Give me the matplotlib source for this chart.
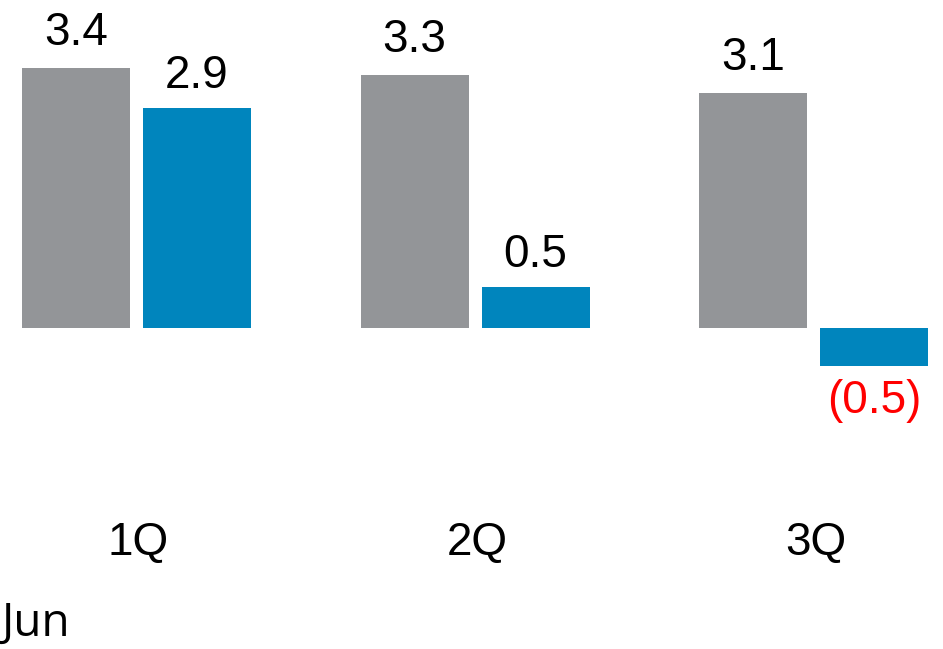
import matplotlib
matplotlib.use("Agg")
import matplotlib.pyplot as plt

categories = ["1Q", "2Q", "3Q"]
series_prior = [3.4, 3.31, 3.07]
series_current = [2.88, 0.53, -0.5]
label_prior = ["3.4", "3.3", "3.1"]
label_current = ["2.9", "0.5", "(0.5)"]
footer = "Jun"

GRAY = "#939598"
BLUE = "#0085BD"
RED = "#FF0000"

W, H = 943, 649
fig = plt.figure(figsize=(W / 100, H / 100), dpi=100)
ax = fig.add_axes([0, 0, 1, 1])
ppu_y = 76.5
base = 328
ax.set_ylim(-(H - base) / ppu_y, base / ppu_y)
ppu_x = 338.5
c0 = 136.5
ax.set_xlim(-c0 / ppu_x, (W - c0) / ppu_x)
ax.axis("off")

bw = 108 / ppu_x
off = 60.5 / ppu_x
x = list(range(len(categories)))
xp = [i - off for i in x]
xc = [i + off for i in x]
ax.bar(xp, series_prior, width=bw, color=GRAY, linewidth=0)
ax.bar(xc, series_current, width=bw, color=BLUE, linewidth=0)

font = "Liberation Sans"
fs = 33
for xi, v, t in zip(xp, series_prior, label_prior):
    ax.text(xi, v + 23 / ppu_y, t, ha="center", va="baseline", fontsize=fs,
            family=font, color="black")
for xi, v, t in zip(xc, series_current, label_current):
    if v >= 0:
        ax.text(xi, v + 20 / ppu_y, t, ha="center", va="baseline", fontsize=fs,
                family=font, color="black")
    else:
        ax.text(xi, v - 47 / ppu_y, t, ha="center", va="baseline", fontsize=fs,
                family=font, color=RED)

for xi, c in zip(x, categories):
    ax.text(xi + 2 / ppu_x, -(555 - base) / ppu_y, c, ha="center", va="baseline",
            fontsize=fs, family=font, color="black")

fig.text(2 / W, 1 - 636 / H, footer, ha="left", va="baseline", fontsize=33,
         family="Open Sans", color="black")

fig.savefig("out.png", dpi=100)
